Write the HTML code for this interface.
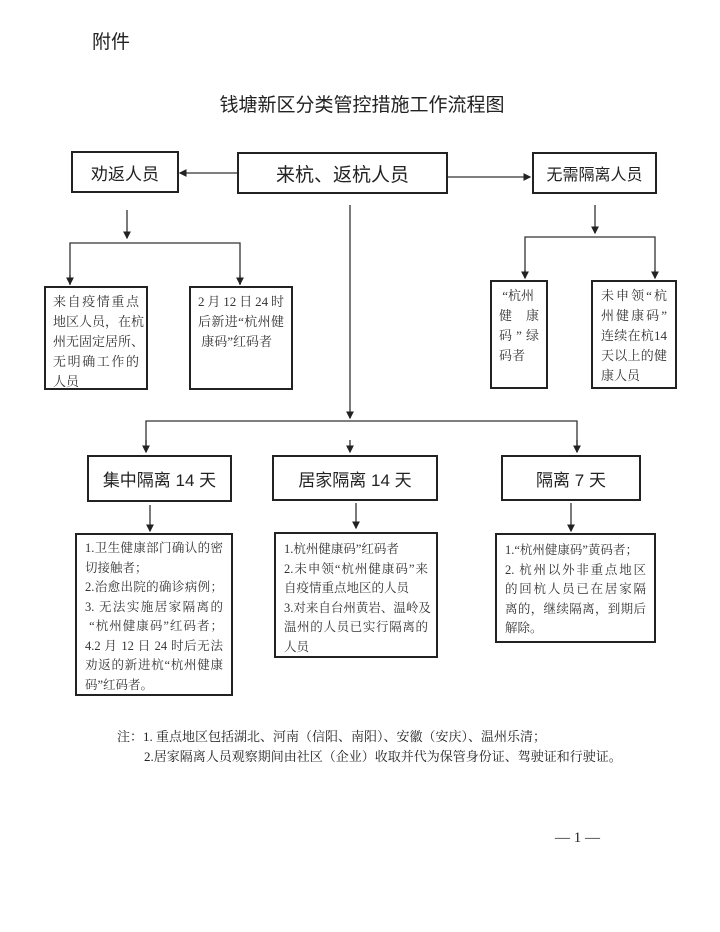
<!DOCTYPE html>
<html><head><meta charset="utf-8"><style>
body{margin:0;width:720px;height:932px;background:#fff;position:relative;overflow:hidden;font-family:"Liberation Sans","Noto Sans CJK SC",sans-serif;color:#222}
.b{position:absolute;border:2px solid #222;box-sizing:border-box;background:#fff}
.c{display:flex;align-items:center;justify-content:center}
.t{font-family:"Liberation Serif","Noto Serif CJK SC",serif;font-size:12.5px;line-height:20px;padding:4px 6px;color:#333;white-space:nowrap}
.t div{text-align:justify;text-align-last:justify}
.t div.l{text-align-last:left}
.abs{position:absolute;white-space:nowrap}
svg{position:absolute;left:0;top:0}
</style></head><body>
<svg width="720" height="932">
<defs><marker id="a" markerWidth="6" markerHeight="6" refX="5" refY="3" orient="auto"><path d="M0,0L6,3L0,6z" fill="#222"/></marker></defs>
<g stroke="#333" stroke-width="1.3" fill="none">
<line x1="237" y1="173" x2="180" y2="173" marker-end="url(#a)"/>
<line x1="447" y1="177" x2="530" y2="177" marker-end="url(#a)"/>
<line x1="127" y1="210" x2="127" y2="238" marker-end="url(#a)"/>
<polyline points="70,285 70,243 240,243 240,285"/>
<line x1="70" y1="275" x2="70" y2="284" marker-end="url(#a)"/>
<line x1="240" y1="275" x2="240" y2="284" marker-end="url(#a)"/>
<line x1="595" y1="205" x2="595" y2="233" marker-end="url(#a)"/>
<polyline points="525,278 525,237 655,237 655,278"/>
<line x1="525" y1="270" x2="525" y2="278" marker-end="url(#a)"/>
<line x1="655" y1="270" x2="655" y2="278" marker-end="url(#a)"/>
<line x1="350" y1="205" x2="350" y2="418" marker-end="url(#a)"/>
<polyline points="146,452 146,421 577,421 577,452"/>
<line x1="146" y1="440" x2="146" y2="452" marker-end="url(#a)"/>
<line x1="350" y1="440" x2="350" y2="452" marker-end="url(#a)"/>
<line x1="577" y1="440" x2="577" y2="452" marker-end="url(#a)"/>
<line x1="150" y1="505" x2="150" y2="531" marker-end="url(#a)"/>
<line x1="356" y1="503" x2="356" y2="528" marker-end="url(#a)"/>
<line x1="571" y1="503" x2="571" y2="531" marker-end="url(#a)"/>
</g></svg>
<div class="abs" style="left:92px;top:27px;font-size:19px">附件</div>
<div class="abs" style="left:0;width:720px;text-align:center;top:90px;font-size:19px;padding-left:2px">钱塘新区分类管控措施工作流程图</div>
<div class="b c" style="left:71px;top:151px;width:108px;height:42px;font-size:17px">劝返人员</div>
<div class="b c" style="left:237px;top:152px;width:211px;height:42px;font-size:19px">来杭、返杭人员</div>
<div class="b c" style="left:532px;top:152px;width:125px;height:42px;font-size:16px">无需隔离人员</div>
<div class="b t" style="left:44px;top:286px;width:104px;height:104px;font-size:13px;padding:4px 7px"><div>来自疫情重点</div><div>地区人员，在杭</div><div>州无固定居所、</div><div>无明确工作的</div><div class="l">人员</div></div>
<div class="b t" style="left:189px;top:286px;width:104px;height:104px;font-size:13px;padding:4px 7px"><div>2月12日24时</div><div>后新进“杭州健</div><div class="l">&nbsp;康码”红码者</div></div>
<div class="b t" style="left:490px;top:280px;width:58px;height:109px;font-size:13px;padding:4px 7px"><div class="l">&nbsp;“杭州</div><div>健　康</div><div>码”绿</div><div class="l">码者</div></div>
<div class="b t" style="left:591px;top:280px;width:86px;height:109px;font-size:13px;padding:4px 8px"><div>未申领“杭</div><div>州健康码”</div><div>连续在杭14</div><div>天以上的健</div><div class="l">康人员</div></div>
<div class="b c" style="left:87px;top:455px;width:145px;height:47px;font-size:17px">集中隔离 14 天</div>
<div class="b c" style="left:272px;top:455px;width:166px;height:46px;font-size:17px">居家隔离 14 天</div>
<div class="b c" style="left:501px;top:455px;width:140px;height:46px;font-size:17px">隔离 7 天</div>
<div class="b t" style="left:75px;top:533px;width:158px;height:163px;padding:4px 8px;line-height:19.5px"><div>1.卫生健康部门确认的密</div><div class="l">切接触者；</div><div>2.治愈出院的确诊病例；</div><div>3. 无法实施居家隔离的</div><div>&nbsp;“杭州健康码”红码者；</div><div>4.2 月 12 日 24 时后无法</div><div>劝返的新进杭“杭州健康</div><div class="l">码”红码者。</div></div>
<div class="b t" style="left:274px;top:532px;width:164px;height:126px;padding:6px 8px;line-height:19.5px"><div class="l">1.杭州健康码”红码者</div><div>2.未申领“杭州健康码”来</div><div class="l">自疫情重点地区的人员</div><div>3.对来自台州黄岩、温岭及</div><div>温州的人员已实行隔离的</div><div class="l">人员</div></div>
<div class="b t" style="left:495px;top:533px;width:161px;height:110px;padding:6px 8px;line-height:19.5px"><div class="l">1.“杭州健康码”黄码者；</div><div>2. 杭州以外非重点地区</div><div>的回杭人员已在居家隔</div><div>离的，继续隔离，到期后</div><div class="l">解除。</div></div>
<div class="abs" style="left:117px;top:726px;font-size:13px;font-family:'Liberation Serif','Noto Serif CJK SC',serif">注：1. 重点地区包括湖北、河南（信阳、南阳）、安徽（安庆）、温州乐清；</div>
<div class="abs" style="left:144px;top:746px;font-size:13px;font-family:'Liberation Serif','Noto Serif CJK SC',serif">2.居家隔离人员观察期间由社区（企业）收取并代为保管身份证、驾驶证和行驶证。</div>
<div class="abs" style="left:555px;top:830px;font-size:15px;font-family:'Liberation Serif',serif">— 1 —</div>
</body></html>
